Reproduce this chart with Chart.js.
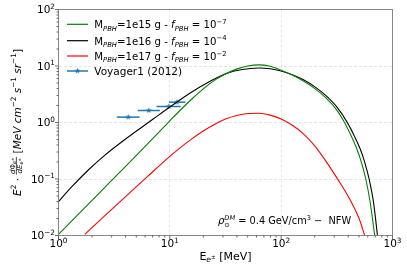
<!DOCTYPE html>
<html>
<head>
<meta charset="utf-8">
<script src="https://cdn.jsdelivr.net/npm/chart.js@4.4.1/dist/chart.umd.min.js"></script>
<style>
  html, body { margin: 0; padding: 0; background: #fff; }
  #wrap { width: 407px; height: 271px; }
</style>
</head>
<body>
<div id="wrap"><canvas id="fluxChart" width="407" height="271"></canvas></div>
<script>
// E [MeV] and E^2 dPhi/dE, one pair of arrays per curve
const greenE = [1, 1.778, 3.162, 5.623, 10, 12.59, 15.85, 19.95, 25.12, 31.62, 39.81, 50.12, 63.10, 79.43,
    100, 125.9, 158.5, 199.5, 251.2, 316.2, 363.1, 416.9, 478.6, 524.8, 575.4, 631.0, 691.8];
const greenFlux = [0.01047, 0.0331, 0.1047, 0.331, 1.072, 1.698, 2.63, 3.936, 5.559, 7.244, 8.81, 10.0, 10.47, 9.886,
    8.414, 6.918, 5.433, 4.027, 2.754, 1.66, 1.072, 0.631, 0.3388, 0.1995, 0.1, 0.038, 0.01];

const blackE = [1, 1.318, 1.862, 2.63, 3.715, 5.248, 7.079, 10, 15.49, 23.44, 33.11, 44.67, 63.10,
    79.43, 100, 125.9, 158.5, 199.5, 251.2, 316.2, 398.1, 457.1, 512.9, 562.3, 616.6, 676.1, 732.8];
const blackFlux = [0.0398, 0.0731, 0.1459, 0.2673, 0.456, 0.7534, 1.151, 1.879, 3.396, 5.47, 7.499, 8.67, 9.226,
    8.913, 8.128, 6.998, 5.689, 4.315, 3.02, 1.884, 0.955, 0.5623, 0.3388, 0.1995, 0.1, 0.038, 0.01];

const redE = [1.722, 2.512, 3.981, 6.31, 10, 12.59, 15.85, 19.95, 25.12, 31.62, 39.81, 50.12, 63.10,
    79.43, 100, 125.9, 158.5, 199.5, 251.2, 316.2, 398.1, 501.2, 562.3];
const redFlux = [0.01047, 0.02089, 0.04842, 0.1109, 0.2512, 0.3673, 0.5188, 0.7079, 0.9226, 1.148, 1.334, 1.445, 1.462,
    1.349, 1.148, 0.8913, 0.631, 0.389, 0.2089, 0.1047, 0.0501, 0.01995, 0.01];

// Voyager1 (2012) points with horizontal error bars
const voyE = [4.23, 6.47, 9.8, 11.6];
const voyElo = [3.34, 5.15, 7.59, 9.8];
const voyEhi = [5.35, 8.13, 12.5, 13.8];
const voyFlux = [1.245, 1.63, 1.92, 2.29];

const masses = ['1e15', '1e16', '1e17'];
const fracExp = ['−7', '−4', '−2'];
const curveColors = ['#008000', '#000000', '#ff0000'];
const voyColor = '#1f77b4';

const xTicks = [1, 10, 100, 1000];
const xTickExp = ['0', '1', '2', '3'];
const yTicks = [0.01, 0.1, 1, 10, 100];
const yTickExp = ['−2', '−1', '0', '1', '2'];

const FONT = '"DejaVu Sans", sans-serif';
const gridColor = '#dedede';

function pts(xs, ys) {
    return xs.map((v, i) => ({ x: v, y: ys[i] }));
}

function makeStar(r, color) {
    const n = Math.ceil(r * 2) + 2;
    const c = document.createElement('canvas');
    c.width = c.height = n;
    const g = c.getContext('2d');
    g.fillStyle = color;
    g.beginPath();
    for (let i = 0; i < 10; i++) {
        const a = -Math.PI / 2 + i * Math.PI / 5;
        const rr = i % 2 ? r * 0.42 : r;
        g.lineTo(n / 2 + rr * Math.cos(a), n / 2 + rr * Math.sin(a));
    }
    g.closePath();
    g.fill();
    return c;
}
const starImg = makeStar(3.2, voyColor);

// small rich-text helper: runs of {t, s, it, dy}, "keep" stacks the next run on top
function fontOf(r) {
    return (r.it ? 'italic ' : '') + (r.s || 11) + 'px ' + FONT;
}
function runWidth(ctx, r) {
    if (r.frac) return Math.max(measure(ctx, r.frac[0]), measure(ctx, r.frac[1])) + 1.5;
    ctx.font = fontOf(r);
    return ctx.measureText(r.t).width;
}
function measure(ctx, runs) {
    let w = 0, keepW = null;
    for (const r of runs) {
        const rw = runWidth(ctx, r);
        if (r.keep) { keepW = rw; continue; }
        w += keepW !== null ? Math.max(keepW, rw) : rw;
        keepW = null;
    }
    return w;
}
function drawRuns(ctx, runs, x, y, align) {
    const w = measure(ctx, runs);
    let cx = align === 'center' ? x - w / 2 : align === 'right' ? x - w : x;
    let keepW = null;
    for (const r of runs) {
        const rw = runWidth(ctx, r);
        if (r.frac) {
            drawRuns(ctx, r.frac[0], cx + rw / 2, y + r.numY, 'center');
            drawRuns(ctx, r.frac[1], cx + rw / 2, y + r.denY, 'center');
            ctx.fillRect(cx, y + r.barY, rw, 0.7);
        } else {
            ctx.font = fontOf(r);
            ctx.fillText(r.t, cx, y + (r.dy || 0));
        }
        if (r.keep) { keepW = rw; continue; }
        cx += keepW !== null ? Math.max(keepW, rw) : rw;
        keepW = null;
    }
}
function line(ctx, x1, y1, x2, y2) {
    ctx.beginPath();
    ctx.moveTo(x1, y1);
    ctx.lineTo(x2, y2);
    ctx.stroke();
}

const figPlugin = {
    id: 'figPlugin',
    beforeDatasetDraw(chart, args) {
        if (args.index !== 3) return;
        const { ctx, scales: { x, y } } = chart;
        ctx.save();
        ctx.strokeStyle = voyColor;
        ctx.lineWidth = 1.5;
        voyE.forEach((e, i) => {
            const py = y.getPixelForValue(voyFlux[i]);
            line(ctx, x.getPixelForValue(voyElo[i]), py, x.getPixelForValue(voyEhi[i]), py);
        });
        ctx.restore();
    },
    afterDraw(chart) {
        const { ctx, chartArea: a, scales: { x, y } } = chart;
        ctx.save();
        ctx.textAlign = 'left';
        ctx.textBaseline = 'alphabetic';

        // frame
        ctx.strokeStyle = '#888';
        ctx.lineWidth = 1;
        ctx.strokeRect(a.left, a.top, a.right - a.left, a.bottom - a.top);

        // tick marks
        ctx.strokeStyle = '#444';
        ctx.lineWidth = 0.8;
        for (let d = 0; d < 3; d++) {
            for (let m = 2; m <= 9; m++) {
                const px = x.getPixelForValue(m * Math.pow(10, d));
                line(ctx, px, a.bottom, px, a.bottom + 2);
            }
        }
        for (let d = -2; d < 2; d++) {
            for (let m = 2; m <= 9; m++) {
                const py = y.getPixelForValue(m * Math.pow(10, d));
                line(ctx, a.left - 2, py, a.left, py);
            }
        }
        xTicks.forEach(v => {
            const px = x.getPixelForValue(v);
            line(ctx, px, a.bottom, px, a.bottom + 3.5);
        });
        yTicks.forEach(v => {
            const py = y.getPixelForValue(v);
            line(ctx, a.left - 3.5, py, a.left, py);
        });

        // tick labels
        ctx.fillStyle = '#000';
        xTicks.forEach((v, i) => {
            drawRuns(ctx, [{ t: '10', s: 10.5 }, { t: xTickExp[i], s: 7.3, dy: -4.5 }],
                x.getPixelForValue(v), a.bottom + 11.5, 'center');
        });
        yTicks.forEach((v, i) => {
            drawRuns(ctx, [{ t: '10', s: 10.5 }, { t: yTickExp[i], s: 7.3, dy: -4.5 }],
                a.left - 3.5, y.getPixelForValue(v) + 3.8, 'right');
        });

        // x label
        drawRuns(ctx, [
            { t: 'E', s: 11 }, { t: 'e', s: 7.7, it: true, dy: 2.5 }, { t: '±', s: 5.5, dy: -0.5 },
            { t: ' [MeV]', s: 11 }
        ], (a.left + a.right) / 2, 259.5, 'center');

        // y label
        ctx.save();
        ctx.translate(20.7, (a.top + a.bottom) / 2);
        ctx.rotate(-Math.PI / 2);
        const sup = { s: 7.3, dy: -4.3 };
        drawRuns(ctx, [
            { t: 'E', s: 10.5, it: true }, { t: '2', ...sup }, { t: ' · ', s: 10.5 },
            {
                frac: [
                    [{ t: 'd', s: 7, it: true }, { t: 'Φ', s: 7 }, { t: 'e', s: 5, it: true, dy: 1.5 }, { t: '±', s: 4, dy: -0.5 }],
                    [{ t: 'dE', s: 7, it: true }, { t: 'e', s: 5, it: true, dy: 1.5 }, { t: '±', s: 4, dy: -0.5 }]
                ], numY: -6, denY: 1, barY: -4.8
            },
            { t: ' [', s: 10.5 }, { t: 'MeV', s: 10.5, it: true }, { t: ' ', s: 10.5 },
            { t: 'cm', s: 10.5, it: true }, { t: '−2', ...sup }, { t: ' ', s: 10.5 },
            { t: 's', s: 10.5, it: true }, { t: '−1', ...sup }, { t: ' ', s: 10.5 },
            { t: 'sr', s: 10.5, it: true }, { t: '−1', ...sup }, { t: ']', s: 10.5 }
        ], 0, 0, 'center');
        ctx.restore();

        // legend
        const rowsY = [24.3, 40.7, 56, 71];
        masses.forEach((m, i) => {
            ctx.strokeStyle = curveColors[i];
            ctx.lineWidth = 1.2;
            line(ctx, 67, rowsY[i], 88, rowsY[i]);
            drawRuns(ctx, [
                { t: 'M', s: 10.2 }, { t: 'PBH', s: 6.8, it: true, dy: 2.5 },
                { t: '=' + m + ' g - ', s: 10.2 }, { t: 'f', s: 10.2, it: true },
                { t: 'PBH', s: 6.8, it: true, dy: 2.5 }, { t: ' = 10', s: 10.2 },
                { t: fracExp[i], s: 6.8, dy: -4.3 }
            ], 94.3, rowsY[i] + 3.8, 'left');
        });
        ctx.strokeStyle = voyColor;
        ctx.lineWidth = 1.5;
        line(ctx, 67, rowsY[3], 88, rowsY[3]);
        ctx.drawImage(starImg, 77.5 - starImg.width / 2, rowsY[3] - starImg.height / 2);
        drawRuns(ctx, [{ t: 'Voyager1 (2012)', s: 10.5 }], 94.3, rowsY[3] + 3.8, 'left');

        // halo note
        drawRuns(ctx, [
            { t: 'ρ', s: 10, it: true }, { t: 'DM', s: 6.6, it: true, dy: -4.5, keep: true },
            { t: '⊙', s: 6.6, dy: 2.5 }, { t: ' = 0.4 GeV/cm', s: 9.8 }, { t: '3', s: 6.6, dy: -4.5 },
            { t: ' −  NFW', s: 9.8 }
        ], 218, 224, 'left');

        ctx.restore();
    }
};

const curveStyle = (color) => ({
    showLine: true,
    borderColor: color,
    borderWidth: 1.1,
    pointRadius: 0,
    cubicInterpolationMode: 'monotone'
});

new Chart(document.getElementById('fluxChart'), {
    type: 'scatter',
    data: {
        datasets: [
            { data: pts(greenE, greenFlux), ...curveStyle(curveColors[0]) },
            { data: pts(blackE, blackFlux), ...curveStyle(curveColors[1]) },
            { data: pts(redE, redFlux), ...curveStyle(curveColors[2]) },
            {
                data: pts(voyE, voyFlux),
                showLine: false,
                pointStyle: starImg,
                pointRadius: 4,
                borderColor: voyColor,
                backgroundColor: voyColor
            }
        ]
    },
    options: {
        responsive: false,
        animation: false,
        devicePixelRatio: 1,
        events: [],
        layout: { padding: { top: 9.5, right: 14.5, left: 0, bottom: 0 } },
        plugins: {
            legend: { display: false },
            tooltip: { enabled: false }
        },
        scales: {
            x: {
                type: 'logarithmic',
                min: 1,
                max: 1000,
                afterBuildTicks: s => { s.ticks = xTicks.map(v => ({ value: v })); },
                afterFit: s => { s.height = 35.5; },
                ticks: { display: false },
                grid: {
                    color: c => (c.index > 0 && c.index < xTicks.length - 1) ? gridColor : 'rgba(0,0,0,0)',
                    lineWidth: 0.8,
                    drawTicks: false
                },
                border: { display: false, dash: [3, 2] }
            },
            y: {
                type: 'logarithmic',
                min: 0.01,
                max: 100,
                afterBuildTicks: s => { s.ticks = yTicks.map(v => ({ value: v })); },
                afterFit: s => { s.width = 58.5; },
                ticks: { display: false },
                grid: {
                    color: c => (c.index > 0 && c.index < yTicks.length - 1) ? gridColor : 'rgba(0,0,0,0)',
                    lineWidth: 0.8,
                    drawTicks: false
                },
                border: { display: false, dash: [3, 2] }
            }
        }
    },
    plugins: [figPlugin]
});
</script>
</body>
</html>
